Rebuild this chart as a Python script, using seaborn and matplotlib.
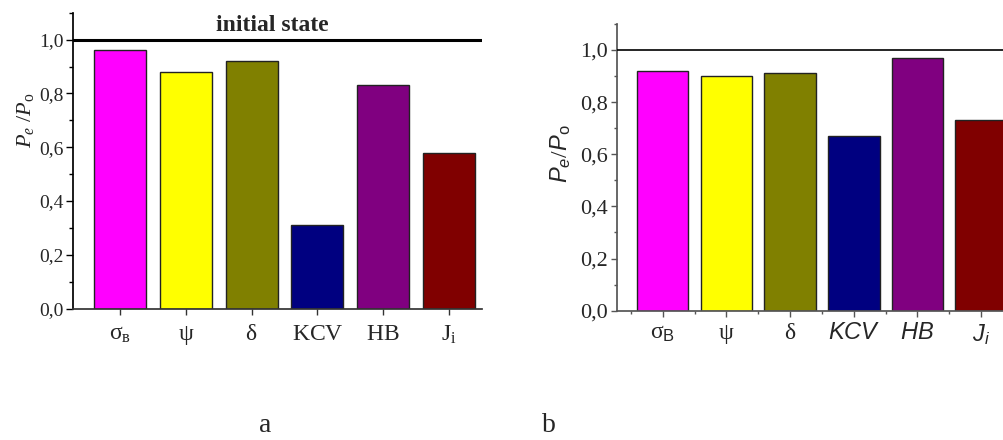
import matplotlib
matplotlib.use("Agg")
import matplotlib.pyplot as plt
import matplotlib.transforms as mtransforms
import seaborn as sns
import pandas as pd
from matplotlib.ticker import MultipleLocator, FuncFormatter, FixedLocator

# ---- data ----
keys = ["sigma", "psi", "delta", "KCV", "HB", "Ji"]
labels_a = [r"$\mathrm{σ}_{\mathrm{в}}$", r"$\mathrm{ψ}$", r"$\mathrm{δ}$",
            r"$\mathrm{KCV}$", r"$\mathrm{HB}$", r"$\mathrm{J}_{\mathrm{i}}$"]
labels_b = [r"$\mathrm{σ}_{\mathsf{B}}$", r"$\mathrm{ψ}$", r"$\mathrm{δ}$",
            r"$\mathtt{KCV}$", r"$\mathtt{HB}$", r"$\mathtt{J}_{\mathtt{i}}$"]
values_a = [0.96, 0.88, 0.92, 0.31, 0.83, 0.58]
values_b = [0.92, 0.90, 0.91, 0.67, 0.97, 0.73]
colors = ["#FF00FF", "#FFFF00", "#808000", "#000080", "#800080", "#800000"]
reference_level = 1.0

sns.set_theme(style="white")
plt.rcParams.update({
    "font.family": ["Liberation Serif", "DejaVu Serif"],
    "mathtext.fontset": "custom",
    "mathtext.rm": "Liberation Serif",
    "mathtext.it": "Liberation Serif:italic",
    "mathtext.sf": "Liberation Sans",
    "mathtext.tt": "Liberation Sans:italic",
})

fig = plt.figure(figsize=(10.04, 4.40), dpi=100)
ax_a = fig.add_axes([0.0727, 0.2984, 0.4074, 0.6727])
ax_b = fig.add_axes([0.6148, 0.2939, 0.3942, 0.6518])

comma = FuncFormatter(lambda v, p: f"{v:.1f}".replace(".", ","))

def draw(ax, vals, labels, width, edge):
    df = pd.DataFrame({"k": keys, "v": vals})
    sns.barplot(data=df, x="k", y="v", hue="k", palette=colors, legend=False,
                width=width, edgecolor=edge, linewidth=1.0, saturation=1, ax=ax)
    ax.set_xlim(-0.713, 5.5)
    ax.set_ylim(0, 1.1)
    ax.set_xticks(range(len(keys)))
    ax.set_xticklabels(labels)
    ax.set_xlabel("")
    ax.yaxis.set_major_locator(MultipleLocator(0.2))
    ax.yaxis.set_minor_locator(MultipleLocator(0.1))
    ax.yaxis.set_major_formatter(comma)
    for s in ["top", "right"]:
        ax.spines[s].set_visible(False)

# ---- panel a ----
draw(ax_a, values_a, labels_a, 0.79, "#222222")
ax_a.axhline(reference_level, color="black", lw=2.2, zorder=5)
ax_a.spines["left"].set_color("black")
ax_a.spines["bottom"].set_color("#333333")
ax_a.tick_params(axis="y", which="major", direction="out", length=5, width=1,
                 left=True, pad=2, labelsize=14, color="black")
ax_a.tick_params(axis="y", which="minor", direction="out", length=3, width=1, left=True, color="black")
ax_a.tick_params(axis="x", which="major", direction="out", length=4, width=1,
                 bottom=True, pad=7, labelsize=17, color="#333333")
ax_a.set_ylabel(r"$P_{e}\ /P_{\mathrm{o}}$", fontsize=16, va="center")
ax_a.yaxis.set_label_coords(-0.117, 0.637)
ax_a.text(0.487, 1.053, "initial state",
          transform=mtransforms.blended_transform_factory(ax_a.transAxes, ax_a.transData),
          ha="center", va="center", fontsize=17, fontweight="bold")

# ---- panel b ----
draw(ax_b, values_b, labels_b, 0.81, "#222222")
ax_b.axhline(reference_level, color="black", lw=1.2, zorder=5)
for s in ["left", "bottom"]:
    ax_b.spines[s].set_color("#555555")
ax_b.xaxis.set_minor_locator(FixedLocator([i + 0.5 for i in range(-1, len(keys))]))
ax_b.tick_params(axis="y", which="major", direction="out", length=4, width=1,
                 left=True, pad=3, labelsize=16, color="#555555")
ax_b.tick_params(axis="y", which="minor", direction="out", length=2.5, width=1, left=True, color="#555555")
ax_b.tick_params(axis="x", which="major", direction="out", length=4, width=1,
                 bottom=True, pad=5, labelsize=17, color="#555555")
ax_b.tick_params(axis="x", which="minor", direction="out", length=2.5, width=1,
                 bottom=True, color="#555555")
ax_b.set_ylabel(r"$\mathtt{P}_{\mathtt{e}}/\mathtt{P}_{\mathsf{o}}$", fontsize=17, va="center")
ax_b.yaxis.set_label_coords(-0.142, 0.546)

# ---- panel letters ----
fig.text(0.264, 0.018, "a", ha="center", va="baseline", fontsize=20)
fig.text(0.547, 0.018, "b", ha="center", va="baseline", fontsize=20)

fig.savefig("out.png", dpi=100)
